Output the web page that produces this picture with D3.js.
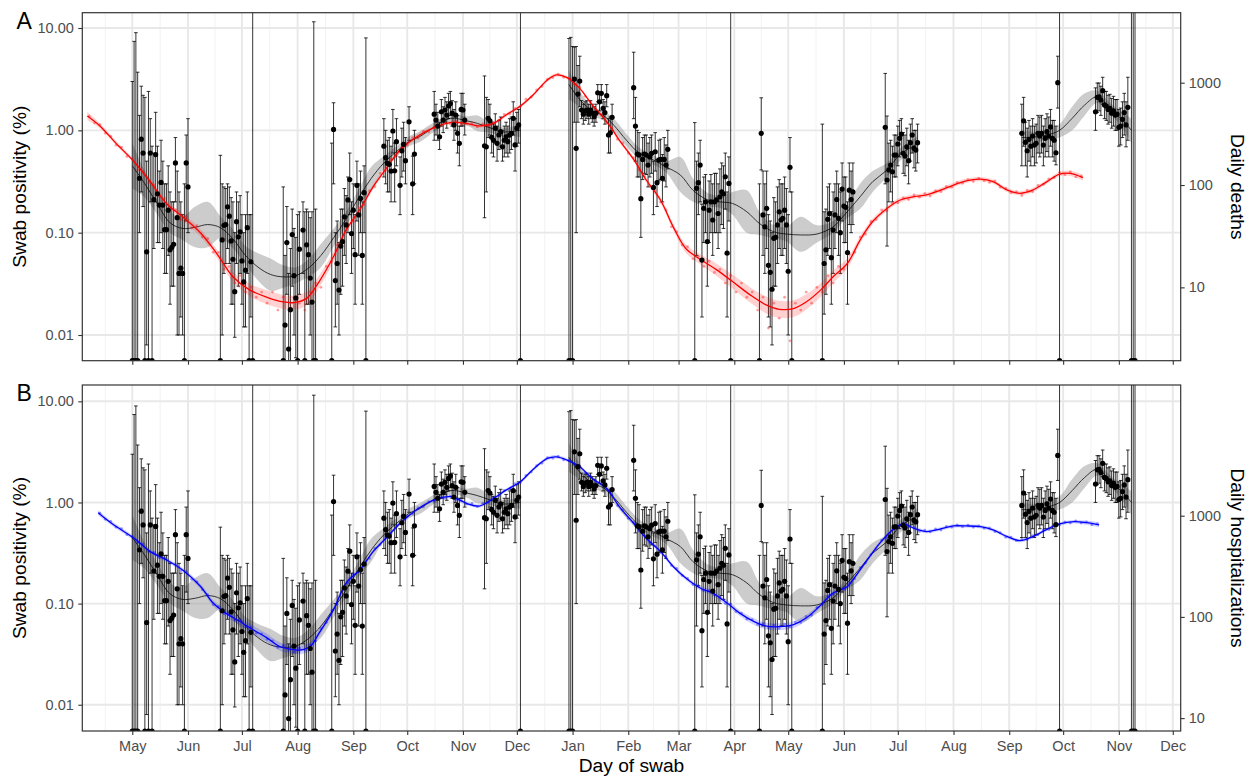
<!DOCTYPE html>
<html>
<head>
<meta charset="utf-8">
<script src="https://cdn.jsdelivr.net/npm/d3@7/dist/d3.min.js"></script>
<style>
  body { margin: 0; background: #fff; }
  svg { display: block; }
  text { font-family: Arial, "Liberation Sans", Helvetica, sans-serif; }
</style>
</head>
<body>
<div id="chart"></div>
<script>
// all days are counted from 1 May 2020
const DAY0 = Date.UTC(2020, 4, 1);
const dayToDate = d => new Date(DAY0 + d * 864e5);

// swab positivity per day of each round: [day, estimate %, lower %, upper %]; estimate 0 = no positives
const round1 = [[0,0,0,3.0],[1,0,0,7.4],[2,0,0,9.0],[3,0,0,3.7],[4,0.34,0.1,1.4],[5,0.82,0.25,2.7],[6,0.6,0.18,2.2],[7,0,0,2.1],[8,0.065,0.008,0.5],[9,0,0,2.4],[10,0.6,0.2,1.3],[11,0,0,0.7],[12,0.21,0.07,0.6],[13,0.58,0.2,1.5],[14,0.24,0.08,0.7],[15,0.186,0.08,0.4],[16,0.31,0.1,0.8],[17,0.186,0.07,0.5],[18,0.107,0.04,0.3],[19,0.107,0.04,0.3],[20,0.166,0.06,0.45],[21,0.068,0.02,0.25],[22,0.072,0.03,0.2],[23,0.077,0.03,0.2],[24,0.48,0.2,0.85],[25,0.14,0.01,0.4],[26,0.04,0.01,0.25],[27,0.045,0.015,0.2],[28,0.04,0.01,0.15],[29,0,0,0.3],[30,0.48,0.13,0.9],[31,0.28,0.1,1.3]];
const round3 = [[49,0,0,0.57],[50,0.085,0.01,0.3],[51,0.118,0.04,0.28],[52,0.12,0.05,0.27],[53,0.179,0.07,0.3],[54,0.145,0.05,0.28],[55,0.083,0.02,0.22],[56,0.055,0.02,0.2],[57,0.0265,0.0095,0.1],[58,0.128,0.05,0.25],[59,0.091,0.03,0.2],[60,0.102,0.04,0.23],[61,0.053,0.02,0.15],[62,0.033,0.012,0.1],[63,0.043,0.012,0.15],[64,0.112,0.04,0.25],[65,0,0,0.15],[66,0.052,0.015,0.15],[67,0,0,20]];
const round4 = [[84,0,0,0.28],[85,0.0125,0.002,0.06],[86,0.08,0.025,0.18],[87,0.0073,0.001,0.04],[88,0.0177,0.004,0.07],[89,0.096,0.03,0.17],[90,0.038,0.01,0.11],[91,0.023,0.006,0.09],[92,0,0,0.15],[93,0.069,0.025,0.16],[95,0.106,0.04,0.2],[96,0,0,0.16],[97,0.076,0.02,0.17],[98,0.061,0.02,0.16],[99,0.036,0.01,0.14],[100,0.021,0.005,0.16],[101,0,0,11.5],[102,0,0,0.17]];
const round5 = [[111,0,0,0.75],[112,1.02,0.3,1.86],[113,0.034,0.012,0.1],[114,0.05,0.02,0.13],[115,0.0275,0.01,0.08],[116,0.074,0.025,0.17],[117,0.082,0.03,0.17],[118,0.143,0.06,0.27],[119,0.119,0.05,0.23],[120,0.209,0.1,0.35],[121,0.33,0.15,0.6],[122,0.098,0.04,0.2],[123,0.166,0.07,0.3],[124,0.061,0.02,0.15],[125,0.29,0.13,0.5],[126,0.149,0.06,0.3],[127,0.216,0.1,0.4],[128,0.06,0.02,0.2],[129,0.246,0.1,0.45],[130,0,0,8.0]];
const round6 = [[140,0.70,0.35,1.3],[141,0.54,0.3,1.0],[142,0.476,0.25,0.8],[143,0.465,0.25,0.85],[144,0.40,0.2,0.7],[145,0.985,0.6,1.6],[146,0.403,0.2,0.75],[147,0.775,0.45,1.3],[149,0.29,0.15,0.55],[150,0.63,0.35,1.05],[151,0.73,0.4,1.2],[152,0.505,0.3,0.85],[154,1.21,0.8,1.7],[156,0.30,0.15,0.56],[157,0.587,0.3,1.0]];
const round7 = [[168,1.44,0.8,2.4],[169,1.26,0.9,1.8],[170,1.10,0.8,1.5],[171,0.866,0.65,1.2],[172,1.52,1.1,2.0],[173,1.26,0.95,1.7],[174,1.58,1.2,2.1],[175,1.41,1.05,1.9],[176,1.73,1.3,2.3],[177,1.83,1.4,2.4],[178,1.47,1.1,1.95],[179,1.13,0.8,1.6],[180,1.41,1.0,1.9],[181,0.935,0.6,1.4],[182,0.746,0.45,1.1],[183,1.6,1.1,2.3],[184,1.58,1.1,2.3],[185,1.26,0.9,1.8]];
const round8 = [[196,0.707,0.14,3.4],[197,0.69,0.25,2.1],[198,1.31,0.85,2.0],[199,1.24,0.9,1.8],[200,0.854,0.6,1.2],[201,0.80,0.55,1.15],[202,1.05,0.75,1.45],[203,0.746,0.5,1.1],[204,0.90,0.65,1.25],[205,0.97,0.7,1.35],[206,0.69,0.5,1.0],[207,0.80,0.55,1.1],[208,0.866,0.6,1.2],[209,0.775,0.55,1.1],[210,0.90,0.6,1.3],[211,0.935,0.65,1.35],[212,1.31,0.9,1.9],[213,0.72,0.4,1.3],[214,1.05,0.7,1.5],[215,1.13,0.75,1.6],[216,0,0,20]];
const round9 = [[243,0,0,7.9],[244,0,0,8.1],[245,0,0,6.6],[246,3.17,1.2,6.5],[247,0.667,0.1,6.6],[248,2.26,1.2,4.3],[249,3.03,1.7,5.3],[250,1.58,1.3,1.95],[251,1.44,1.15,1.8],[252,1.55,1.25,1.9],[253,1.58,1.3,1.95],[254,1.44,1.15,1.8],[255,1.58,1.3,1.95],[256,1.47,1.2,1.8],[257,1.36,1.1,1.7],[258,1.47,1.2,1.8],[259,2.33,1.9,2.8],[260,1.90,1.55,2.3],[261,2.30,1.85,2.8],[262,1.64,1.3,2.0],[263,1.49,1.15,1.9],[264,2.18,1.7,2.8],[265,0.90,0.6,1.3],[266,0.947,0.6,1.35],[267,1.34,1.0,1.8]];
const round10 = [[279,2.61,1.3,5.8],[280,1.10,0.5,2.1],[281,0.587,0.35,1.0],[282,0.574,0.35,0.95],[283,0.215,0.09,0.6],[284,0.52,0.33,0.85],[285,0.587,0.38,0.9],[286,0.574,0.37,0.9],[287,0.458,0.28,0.75],[288,0.55,0.35,0.85],[289,0.596,0.38,0.9],[290,0.277,0.15,0.5],[291,0.618,0.4,0.95],[292,0.308,0.18,0.52],[293,0.513,0.32,0.8],[294,0.52,0.33,0.82],[295,0.34,0.2,0.58],[296,0.52,0.32,0.85],[297,0.458,0.28,0.72],[298,0.652,0.42,1.0]];
const round11 = [[313,0,0,1.19],[314,0.271,0.06,0.5],[315,0.308,0.15,0.6],[316,0.458,0.2,0.8],[317,0.054,0.015,0.19],[318,0.173,0.08,0.35],[319,0.20,0.1,0.37],[320,0.082,0.03,0.2],[321,0.166,0.08,0.32],[322,0.20,0.1,0.37],[323,0.133,0.06,0.3],[324,0.20,0.1,0.38],[325,0.209,0.1,0.38],[326,0.154,0.07,0.3],[327,0.224,0.1,0.42],[328,0.25,0.12,0.48],[329,0.24,0.11,0.45],[330,0.352,0.17,0.6],[331,0.063,0.015,0.25],[332,0.303,0.13,0.55],[333,0,0,20]];
const round12 = [[349,0,0,0.3],[350,0.935,0.41,2.08],[351,0.149,0.06,0.4],[352,0.114,0.04,0.3],[353,0.173,0.07,0.4],[354,0.048,0.015,0.15],[355,0.041,0.012,0.13],[356,0.028,0.008,0.1],[357,0.088,0.03,0.22],[358,0.09,0.03,0.2],[359,0.119,0.05,0.28],[360,0.16,0.07,0.33],[361,0.133,0.06,0.3],[362,0.138,0.06,0.3],[363,0.166,0.07,0.35],[364,0.119,0.05,0.27],[365,0.042,0.01,0.15],[366,0.435,0.25,0.85],[367,0,0,0.25]];
const round13 = [[384,0,0,1.15],[385,0.05,0.016,0.16],[386,0.068,0.025,0.17],[387,0.135,0.06,0.28],[388,0.154,0.07,0.3],[389,0.057,0.02,0.16],[390,0.106,0.04,0.25],[391,0.149,0.07,0.3],[392,0.211,0.1,0.4],[393,0.138,0.06,0.3],[394,0.10,0.04,0.25],[395,0.267,0.13,0.48],[396,0.182,0.08,0.35],[397,0.177,0.08,0.35],[398,0.064,0.02,0.2],[399,0.26,0.12,0.48],[400,0.211,0.1,0.4],[401,0.25,0.12,0.48]];
const round14 = [[419,1.07,0.3,3.6],[420,0.327,0.074,1.38],[421,0.41,0.2,0.75],[422,0.458,0.25,0.8],[423,0.394,0.2,0.7],[424,0.574,0.35,0.9],[425,0.574,0.35,0.9],[426,0.735,0.45,1.1],[427,0.835,0.55,1.25],[428,0.92,0.6,1.3],[429,0.596,0.38,0.95],[430,0.56,0.36,0.9],[431,0.69,0.45,1.05],[432,0.505,0.3,0.8],[433,0.757,0.5,1.15],[434,0.90,0.6,1.3],[435,0.667,0.43,1.0],[436,0.642,0.4,1.0],[437,0.757,0.48,1.15]];
const round15 = [[495,0.935,0.45,1.8],[496,1.24,0.7,2.1],[497,0.763,0.45,1.2],[498,0.632,0.35,1.05],[499,0.817,0.5,1.25],[500,0.70,0.45,1.1],[501,0.88,0.55,1.3],[502,0.718,0.45,1.1],[503,0.746,0.48,1.15],[504,0.935,0.6,1.4],[505,0.88,0.55,1.35],[506,0.935,0.6,1.4],[507,0.718,0.45,1.1],[508,0.835,0.55,1.3],[509,0.97,0.62,1.45],[510,0.88,0.55,1.35],[511,1.08,0.7,1.6],[512,0.835,0.55,1.25],[513,0.80,0.5,1.25],[514,0.604,0.46,1.1],[515,2.92,1.65,5.3],[516,0,0,20]];
const round16 = [[536,1.52,1.0,2.6],[537,2.1,1.5,2.9],[538,2.13,1.55,2.9],[539,1.98,1.4,2.7],[540,2.44,1.8,3.3],[541,1.77,1.3,2.4],[542,1.73,1.25,2.4],[543,1.6,1.15,2.2],[544,1.64,1.2,2.25],[545,1.47,1.05,2.05],[546,1.55,1.1,2.15],[547,1.41,1.0,2.0],[548,1.44,1.0,2.0],[549,1.07,0.7,1.6],[550,1.10,0.72,1.65],[551,1.28,0.85,1.9],[552,1.49,0.9,2.3],[553,1.13,0.69,1.9],[554,1.68,0.8,3.3],[556,0,0,20],[557,0,0,20],[558,0,0,20]];

// smoothed swab positivity (null = gap between fitted stretches)
const smoothDays = [0,7,14,21,28,35,42,49,56,63,70,77,84,91,98,105,112,119,126,133,140,147,154,160,168,177,186,192,199,205,210,216, 230,
  243,249,256,262,268,275,282,290,297,305,312,320,327,334,342,349,357,364,372,381,390,397,405,412,420,427,434,437, 466,
  495,502,509,516,523,530,537,544,551,556];
const smoothMid = [0.45,0.30,0.19,0.125,0.11,0.113,0.12,0.112,0.087,0.06,0.046,0.039,0.037,0.038,0.045,0.06,0.089,0.136,0.22,0.34,0.48,0.62,0.78,0.87,1.08,1.31,1.24,1.17,1.06,0.97,0.97,1.0, null,
  2.8,2.0,1.55,1.4,1.12,0.80,0.6,0.513,0.44,0.366,0.26,0.21,0.20,0.193,0.16,0.123,0.102,0.097,0.095,0.097,0.114,0.154,0.224,0.315,0.41,0.574,0.69,0.74, null,
  0.85,0.86,0.9,1.0,1.31,1.77,2.13,1.64,1.26,1.0];
const smoothLo = [0.27,0.22,0.15,0.10,0.085,0.072,0.072,0.088,0.07,0.049,0.034,0.027,0.029,0.032,0.037,0.046,0.073,0.116,0.185,0.26,0.42,0.55,0.70,0.77,0.97,1.2,1.12,0.98,0.95,0.88,0.88,0.86, null,
  2.0,1.7,1.4,1.25,0.98,0.70,0.53,0.46,0.39,0.25,0.20,0.18,0.175,0.15,0.10,0.095,0.088,0.082,0.065,0.08,0.10,0.135,0.17,0.25,0.35,0.50,0.60,0.62, null,
  0.72,0.76,0.8,0.85,1.0,1.4,1.85,1.45,1.05,0.75];
const smoothHi = [0.75,0.40,0.25,0.16,0.145,0.18,0.20,0.145,0.108,0.074,0.063,0.056,0.048,0.046,0.055,0.078,0.109,0.16,0.265,0.44,0.56,0.70,0.87,0.98,1.2,1.43,1.37,1.40,1.18,1.07,1.07,1.16, null,
  3.9,2.4,1.72,1.55,1.3,0.92,0.68,0.57,0.50,0.55,0.34,0.245,0.23,0.25,0.26,0.16,0.118,0.115,0.143,0.118,0.13,0.175,0.30,0.40,0.48,0.66,0.80,0.88, null,
  1.0,0.97,1.02,1.15,1.7,2.3,2.45,1.85,1.5,1.3];

// daily deaths: smoothed curve, its interval factor, and daily counts every 3rd day from day -24
const deathDays = [-25,-18,-9,1,10,19,28,38,47,56,65,75,84,90,97,104,112,119,127,134,142,149,158,167,177,186,193,201,208,216,223,231,236,242,249,256,264,271,279,286,294,301,308,316,325,334,344,353,360,368,375,383,390,398,405,412,420,427,435,442,449,457,464,472,479,487,494,501,509,516,522,529];
const deathMid = [473,378,255,169,108,66,49,34,21.4,12.7,9.5,8.0,7.2,7.1,7.8,11.4,20,36.4,59,96,151,220,293,358,407,400,378,400,484,592,758,1063,1190,1120,880,605,416,275,178,112,71,39,24,18.8,14.9,11.4,8.4,6.7,6.1,6.2,7.2,9.4,12.7,17.2,29,44,59,71,77,80,88,100,110,114,108,89,83,89,108,128,130,118];
const deathCI = [1.1,1.06,1.05,1.05,1.06,1.07,1.08,1.09,1.1,1.12,1.15,1.17,1.17,1.17,1.17,1.15,1.12,1.09,1.07,1.06,1.05,1.05,1.05,1.04,1.04,1.04,1.04,1.04,1.04,1.04,1.04,1.04,1.04,1.04,1.04,1.04,1.04,1.05,1.05,1.06,1.07,1.08,1.1,1.12,1.15,1.17,1.19,1.21,1.21,1.21,1.19,1.17,1.15,1.12,1.09,1.07,1.06,1.06,1.05,1.05,1.05,1.05,1.05,1.05,1.05,1.05,1.05,1.05,1.05,1.05,1.06,1.07];
const deathDotStart = -24;
const deathDots = [470,405,390,320,300,245,235,190,180,140, 135,105,100,78,74,58,57,46,49,38, 40,31,30,22,22,15,16,11,13,9,
  10,8,9,7,9,6,8,6,8,7, 6,9,11,10,16,18,26,29,40,44, 60,64,88,96,130,140,178,192,235,245,
  290,288,335,330,370,372,410,398,418,390, 395,405,370,395,380,410,430,490,495,560, 580,690,725,850,920,1080,1120,1210,1130,1100,
  960,900,735,650,540,490,405,360,280,258, 205,185,140,122,98,88,68,57,39,35, 26,25,19,20,16,18,14,15,11,13,
  9,11,8,9,6,8,4,7,5,8, 3,7,6,9,7,10,9,13,11,16, 15,21,22,31,33,44,46,57,56,66,
  67,75,72,80,76,83,78,88,86,97, 95,106,104,113,108,117,110,106,110,95, 93,84,86,79,89,86,99,101,115,118,
  133,126,134,120,122];

// daily hospitalizations: smoothed curve, interval factor, and daily counts every 3rd day from day -18
const hospDays = [-19,-11,1,10,19,28,38,45,52,60,67,75,82,90,93,99,104,112,119,127,134,142,149,158,167,177,186,193,201,208,216,223,231,236,242,249,256,264,271,279,286,294,301,308,316,323,331,338,346,353,360,368,375,382,390,398,401,409,416,423,429,435,442,449,457,464,472,479,487,494,501,509,516,524,531,538];
const hospMid = [1070,828,598,442,366,291,200,137,109,90,75,62,51,47.5,47,51,69.5,118,216,296,442,620,842,1138,1405,1540,1325,1245,1480,1790,2165,2865,3680,3815,3540,3040,2335,1860,1228,842,598,442,315,242,193,172,137,109,90,81,80,84,97.5,125,172,200,232,366,535,723,828,751,696,734,792,792,779,723,620,567,620,734,828,873,853,810];
const hospCI = [1.06,1.05,1.05,1.05,1.05,1.05,1.06,1.07,1.08,1.09,1.1,1.1,1.1,1.1,1.1,1.1,1.09,1.07,1.06,1.05,1.04,1.04,1.04,1.04,1.04,1.04,1.04,1.04,1.04,1.04,1.04,1.04,1.04,1.04,1.04,1.04,1.04,1.04,1.04,1.04,1.05,1.05,1.05,1.05,1.06,1.06,1.07,1.07,1.08,1.08,1.08,1.08,1.07,1.06,1.06,1.05,1.05,1.05,1.05,1.04,1.04,1.04,1.04,1.04,1.04,1.04,1.04,1.04,1.04,1.04,1.04,1.04,1.04,1.04,1.05,1.06];
const hospDotStart = -18;
const hospDots = [1060,920,880,770,745,650,625,545,525,440, 435,385,380,340,330,285,280,235,222,186, 166,132,127,108,108,93,93,80,79,69,
  68,60,58,50,52,47,45,49,47,53, 58,77,88,116,133,192,215,265,280,340, 378,475,515,620,665,800,845,990,1040,1195,
  1220,1380,1390,1510,1480,1570,1430,1420,1300,1320, 1230,1330,1360,1510,1570,1780,1840,2070,2120,2500, 2700,3120,3290,3750,3690,3850,3560,3520,3180,3100,
  2650,2470,2150,2040,1820,1590,1260,1150,940,860, 705,640,540,505,432,395,322,302,256,240, 209,202,183,182,164,157,136,134,113,109,
  95,94,84,86,78,83,77,85,80,89, 88,101,104,124,133,160,167,188,187,216, 238,307,340,412,466,570,600,745,755,850,
  770,772,700,718,690,740,722,785,768,810, 775,808,768,795,748,758,695,680,612,615, 566,582,582,636,650,722,728,808,810,866,
  845,888,845,870,812,830];

const leftTicks = [0.01, 0.1, 1, 10];
const rightTicks = [10, 100, 1000];

// ---------------------------------------------------------------
const W = 1250, H = 776;
const X0 = 82.3, X1 = 1180.7;
const DOT_STEP = 3;

const swabPoints = [round1, round3, round4, round5, round6, round7, round8, round9, round10,
  round11, round12, round13, round14, round15, round16].flat()
  .map(([d, est, lo, hi]) => ({ date: dayToDate(d), est, lo, hi }));

const smooth = smoothDays.map((d, i) => ({ date: dayToDate(d), mid: smoothMid[i], lo: smoothLo[i], hi: smoothHi[i] }));

const svg = d3.select('#chart').append('svg').attr('width', W).attr('height', H);
svg.append('rect').attr('width', W).attr('height', H).attr('fill', '#fff');

const x = d3.scaleUtc()
  .domain([new Date(Date.UTC(2020, 3, 3, 4, 19)), new Date(Date.UTC(2021, 11, 5, 10, 0))])
  .range([X0, X1]);

const monthTicks = d3.utcMonth.range(new Date(Date.UTC(2020, 4, 1)), new Date(Date.UTC(2021, 11, 2)));
const allMonths = [new Date(Date.UTC(2020, 3, 1)), ...monthTicks, new Date(Date.UTC(2022, 0, 1))];
const minorTicks = d3.pairs(allMonths).map(([a, b]) => new Date((+a + +b) / 2))
  .filter(d => d >= x.domain()[0] && d <= x.domain()[1]);

const panels = [
  { label: 'A', top: 12.7, bottom: 360.7, yDomain: [0.00561, 14.11], rDomain: [1.92, 4830],
    color: '#ff0000', rightTitle: 'Daily deaths', showX: false,
    curveDays: deathDays, curveMid: deathMid, curveCI: deathCI, dots: deathDots, dotStart: deathDotStart },
  { label: 'B', top: 385, bottom: 731, yDomain: [0.0055, 14.5], rDomain: [7.46, 19560],
    color: '#0000ff', rightTitle: 'Daily hospitalizations', showX: true,
    curveDays: hospDays, curveMid: hospMid, curveCI: hospCI, dots: hospDots, dotStart: hospDotStart }
];

panels.forEach(drawPanel);

function drawPanel(p) {
  const y = d3.scaleLog().domain(p.yDomain).range([p.bottom, p.top]);
  const yr = d3.scaleLog().domain(p.rDomain).range([p.bottom, p.top]);
  const yv = v => (v > 0 ? y(v) : p.bottom + 3);
  const g = svg.append('g');

  const clipId = 'clip' + p.label;
  svg.append('clipPath').attr('id', clipId).append('rect')
    .attr('x', X0).attr('y', p.top).attr('width', X1 - X0).attr('height', p.bottom - p.top);

  // grid
  const grid = g.append('g').attr('fill', 'none');
  grid.selectAll('line.minor').data(minorTicks).join('line')
    .attr('x1', d => x(d)).attr('x2', d => x(d)).attr('y1', p.top).attr('y2', p.bottom)
    .attr('stroke', '#f2f2f2').attr('stroke-width', 1);
  grid.selectAll('line.vmajor').data(monthTicks).join('line')
    .attr('x1', d => x(d)).attr('x2', d => x(d)).attr('y1', p.top).attr('y2', p.bottom)
    .attr('stroke', '#e8e8e8').attr('stroke-width', 1.9);
  grid.selectAll('line.hmajor').data(leftTicks).join('line')
    .attr('x1', X0).attr('x2', X1).attr('y1', d => y(d)).attr('y2', d => y(d))
    .attr('stroke', '#e8e8e8').attr('stroke-width', 1.9);

  const plot = g.append('g').attr('clip-path', `url(#${clipId})`);
  const curve = d3.curveCatmullRom.alpha(0.5);

  // fitted swab positivity with interval
  plot.append('path').datum(smooth)
    .attr('d', d3.area().defined(s => s.mid != null).curve(curve)
      .x(s => x(s.date)).y0(s => y(s.lo)).y1(s => y(s.hi)))
    .attr('fill', '#999').attr('fill-opacity', 0.5);
  plot.append('path').datum(smooth)
    .attr('d', d3.line().defined(s => s.mid != null).curve(curve)
      .x(s => x(s.date)).y(s => y(s.mid)))
    .attr('fill', 'none').attr('stroke', '#333').attr('stroke-width', 1);

  // error bars
  const bars = plot.append('g').attr('stroke', '#000').attr('stroke-width', 0.8);
  bars.selectAll('line.bar').data(swabPoints).join('line')
    .attr('x1', d => x(d.date)).attr('x2', d => x(d.date))
    .attr('y1', d => yv(d.lo)).attr('y2', d => yv(d.hi));
  bars.selectAll('line.capTop').data(swabPoints).join('line')
    .attr('x1', d => x(d.date) - 1.8).attr('x2', d => x(d.date) + 1.8)
    .attr('y1', d => yv(d.hi)).attr('y2', d => yv(d.hi));
  bars.selectAll('line.capLow').data(swabPoints.filter(d => d.lo > 0)).join('line')
    .attr('x1', d => x(d.date) - 1.8).attr('x2', d => x(d.date) + 1.8)
    .attr('y1', d => yv(d.lo)).attr('y2', d => yv(d.lo));

  // daily counts
  const dots = p.dots.map((v, i) => ({ date: dayToDate(p.dotStart + i * DOT_STEP), v }));
  plot.append('g').selectAll('circle').data(dots).join('circle')
    .attr('cx', d => x(d.date)).attr('cy', d => yr(d.v)).attr('r', 1.4)
    .attr('fill', p.color).attr('fill-opacity', 0.38);

  // fitted counts with interval
  const fit = p.curveDays.map((d, i) => ({ date: dayToDate(d), v: p.curveMid[i], f: p.curveCI[i] }));
  plot.append('path').datum(fit)
    .attr('d', d3.area().curve(curve).x(d => x(d.date)).y0(d => yr(d.v / d.f)).y1(d => yr(d.v * d.f)))
    .attr('fill', p.color).attr('fill-opacity', 0.18);
  plot.append('path').datum(fit)
    .attr('d', d3.line().curve(curve).x(d => x(d.date)).y(d => yr(d.v)))
    .attr('fill', 'none').attr('stroke', p.color).attr('stroke-width', 1.3);

  // swab estimates
  plot.append('g').selectAll('circle').data(swabPoints).join('circle')
    .attr('cx', d => x(d.date)).attr('cy', d => (d.est > 0 ? y(d.est) : p.bottom))
    .attr('r', 2.6).attr('fill', '#000');

  // frame
  g.append('rect').attr('x', X0).attr('y', p.top).attr('width', X1 - X0).attr('height', p.bottom - p.top)
    .attr('fill', 'none').attr('stroke', '#333').attr('stroke-width', 1.2);

  // axes
  const styleAxis = sel => {
    sel.select('.domain').remove();
    sel.selectAll('.tick line').attr('stroke', '#333').attr('stroke-width', 1.1);
    sel.selectAll('.tick text').attr('fill', '#4d4d4d').style('font-size', '14.5px');
  };
  g.append('g').attr('transform', `translate(${X0},0)`)
    .call(d3.axisLeft(y).tickValues(leftTicks).tickFormat(d3.format('.2f')).tickSize(4).tickPadding(4.5))
    .call(styleAxis);
  g.append('g').attr('transform', `translate(${X1},0)`)
    .call(d3.axisRight(yr).tickValues(rightTicks).tickFormat(d3.format('d')).tickSize(4).tickPadding(4))
    .call(styleAxis);
  g.append('g').attr('transform', `translate(0,${p.bottom})`)
    .call(d3.axisBottom(x).tickValues(monthTicks).tickFormat(p.showX ? d3.utcFormat('%b') : () => '')
      .tickSize(4).tickPadding(5.4))
    .call(styleAxis);

  // titles
  const mid = (p.top + p.bottom) / 2;
  g.append('text').attr('transform', `translate(26,${mid}) rotate(-90)`)
    .attr('text-anchor', 'middle').style('font-size', '19.2px').attr('fill', '#000')
    .text('Swab positivity (%)');
  g.append('text').attr('transform', `translate(1231,${mid}) rotate(90)`)
    .attr('text-anchor', 'middle').style('font-size', '19.2px').attr('fill', '#000')
    .text(p.rightTitle);
  g.append('text').attr('x', 16.5).attr('y', p.top + 15.8)
    .style('font-size', '23px').attr('fill', '#000').text(p.label);
}

svg.append('text').attr('x', (X0 + X1) / 2).attr('y', 771.7).attr('text-anchor', 'middle')
  .style('font-size', '19.2px').attr('fill', '#000').text('Day of swab');
</script>
</body>
</html>
